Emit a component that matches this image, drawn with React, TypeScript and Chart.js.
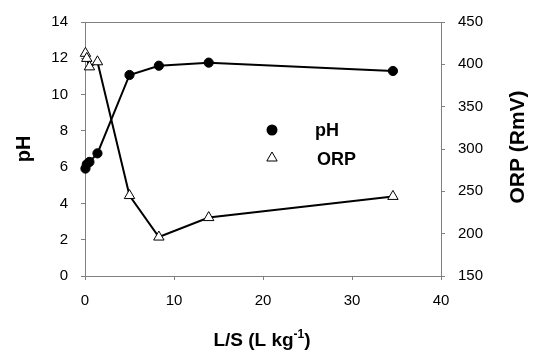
import React, { useEffect, useRef } from "react";
import { Chart, registerables } from "chart.js";

Chart.register(...registerables);

const lsValues = [0.05, 0.2, 0.5, 1.4, 5.0, 8.3, 13.9, 34.6];
const phValues = [5.92, 6.16, 6.29, 6.76, 11.08, 11.59, 11.76, 11.3];
const orpValues = [413, 407, 397, 403, 245, 196, 219, 244];
const seriesNames = ["pH", "ORP"];
const xTicks = { min: 0, max: 40, step: 10 };
const phTicks = { min: 0, max: 14, step: 2 };
const orpTicks = { min: 150, max: 450, step: 50 };

const FONT = "'Liberation Sans', Arial, sans-serif";
const AXIS = "#808080";

const decorPlugin = {
  id: "decor",
  afterDraw(chart: any) {
    const ctx = chart.ctx;
    const a = chart.chartArea;
    ctx.save();
    // top border
    ctx.strokeStyle = AXIS;
    ctx.lineWidth = 1;
    ctx.beginPath();
    ctx.moveTo(a.left - 4, a.top + 0.5);
    ctx.lineTo(a.right + 4, a.top + 0.5);
    ctx.stroke();

    ctx.fillStyle = "#000";
    // y titles
    ctx.font = `bold 20px ${FONT}`;
    ctx.textAlign = "center";
    ctx.textBaseline = "middle";
    ctx.save();
    ctx.translate(24, 149);
    ctx.rotate(-Math.PI / 2);
    ctx.fillText("pH", 0, 0);
    ctx.restore();
    ctx.font = `bold 21px ${FONT}`;
    ctx.save();
    ctx.translate(518, 147);
    ctx.rotate(-Math.PI / 2);
    ctx.fillText("ORP (RmV)", 0, 0);
    ctx.restore();

    // x title with superscript
    const main1 = "L/S (L kg";
    const sup = "-1";
    const main2 = ")";
    ctx.textAlign = "left";
    ctx.textBaseline = "alphabetic";
    ctx.font = `bold 19px ${FONT}`;
    const w1 = ctx.measureText(main1).width;
    const w3 = ctx.measureText(main2).width;
    ctx.font = `bold 12px ${FONT}`;
    const w2 = ctx.measureText(sup).width;
    const total = w1 + w2 + w3;
    let x = 262 - total / 2;
    const base = 346;
    ctx.font = `bold 19px ${FONT}`;
    ctx.fillText(main1, x, base);
    x += w1;
    ctx.font = `bold 12px ${FONT}`;
    ctx.fillText(sup, x, base - 8);
    x += w2;
    ctx.font = `bold 19px ${FONT}`;
    ctx.fillText(main2, x, base);

    // legend
    ctx.beginPath();
    ctx.arc(272, 130, 5.5, 0, Math.PI * 2);
    ctx.fillStyle = "#000";
    ctx.fill();
    const r = 6;
    ctx.beginPath();
    ctx.moveTo(272, 158 - r);
    ctx.lineTo(272 + r * 0.866, 158 + r * 0.5);
    ctx.lineTo(272 - r * 0.866, 158 + r * 0.5);
    ctx.closePath();
    ctx.fillStyle = "#fff";
    ctx.fill();
    ctx.strokeStyle = "#000";
    ctx.lineWidth = 1;
    ctx.stroke();
    ctx.fillStyle = "#000";
    ctx.font = `bold 18px ${FONT}`;
    ctx.textBaseline = "middle";
    ctx.fillText(seriesNames[0], 315, 131);
    ctx.fillText(seriesNames[1], 317, 160);
    ctx.restore();
  },
};

export default function App() {
  const ref = useRef<HTMLCanvasElement>(null);
  useEffect(() => {
    const canvas = ref.current;
    if (!canvas) return;
    const tickFont = { family: FONT, size: 15 };
    const chart = new Chart(canvas, {
      type: "line",
      data: {
        datasets: [
          {
            label: seriesNames[0],
            data: lsValues.map((x, i) => ({ x, y: phValues[i] })),
            yAxisID: "y",
            borderColor: "#000",
            borderWidth: 2,
            backgroundColor: "#000",
            pointBackgroundColor: "#000",
            pointBorderColor: "#000",
            pointBorderWidth: 1,
            pointStyle: "circle",
            pointRadius: 4.6,
            tension: 0,
            clip: false as any,
          },
          {
            label: seriesNames[1],
            data: lsValues.map((x, i) => ({ x, y: orpValues[i] })),
            yAxisID: "y2",
            borderColor: "#000",
            borderWidth: 2,
            backgroundColor: "#fff",
            pointBackgroundColor: "#fff",
            pointBorderColor: "#000",
            pointBorderWidth: 1,
            pointStyle: "triangle",
            pointRadius: 6,
            tension: 0,
            clip: false as any,
          },
        ],
      },
      options: {
        animation: false,
        responsive: false,
        maintainAspectRatio: false,
        layout: { padding: { top: 20, left: 0, right: 0, bottom: 0 } },
        plugins: { legend: { display: false }, tooltip: { enabled: false } },
        scales: {
          x: {
            type: "linear",
            position: "bottom",
            min: xTicks.min,
            max: xTicks.max,
            ticks: { stepSize: xTicks.step, font: tickFont, color: "#000", padding: 12, maxRotation: 0 },
            grid: { drawOnChartArea: false, tickLength: 4, color: AXIS },
            border: { color: AXIS },
            afterFit: (s: any) => {
              s.height = 76;
            },
          },
          y: {
            type: "linear",
            position: "left",
            min: phTicks.min,
            max: phTicks.max,
            ticks: { stepSize: phTicks.step, font: tickFont, color: "#000", padding: 13 },
            grid: { drawOnChartArea: false, tickLength: 4, color: AXIS },
            border: { color: AXIS },
            afterFit: (s: any) => {
              s.width = 85;
            },
          },
          y2: {
            type: "linear",
            position: "right",
            min: orpTicks.min,
            max: orpTicks.max,
            ticks: { stepSize: orpTicks.step, font: tickFont, color: "#000", padding: 13 },
            grid: { drawOnChartArea: false, tickLength: 4, color: AXIS },
            border: { color: AXIS },
            afterFit: (s: any) => {
              s.width = 97;
            },
          },
        },
      },
      plugins: [decorPlugin],
    });
    return () => chart.destroy();
  }, []);
  return (
    <div style={{ position: "fixed", left: 0, top: 0, width: 538, height: 352, background: "#fff" }}>
      <canvas ref={ref} width={538} height={352} style={{ width: 538, height: 352 }} />
    </div>
  );
}
